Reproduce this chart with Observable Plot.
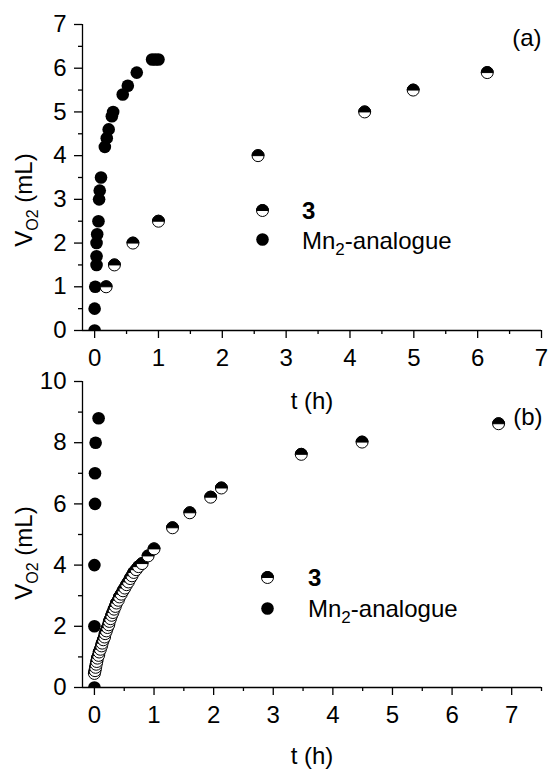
<!DOCTYPE html>
<html><head><meta charset="utf-8">
<script src="https://cdn.jsdelivr.net/npm/d3@7"></script>
<script src="https://cdn.jsdelivr.net/npm/@observablehq/plot@0.6"></script>
<style>
html,body{margin:0;padding:0;background:#fff;}
#wrap{position:relative;width:548px;height:769px;overflow:hidden;}
#wrap svg{position:absolute;left:0;}
</style></head><body><div id="wrap"></div>
<script>
// ---------- Panel (a) ----------
const aT3  = [0.18, 0.31, 0.60, 1.00, 2.56, 4.23, 4.99, 6.15];
const aV3  = [1.0, 1.5, 2.0, 2.5, 4.0, 5.0, 5.5, 5.9];
const aTMn = [0.00,0.00,0.01,0.03,0.03,0.03,0.04,0.06,0.07,0.08,0.10,0.16,0.19,0.22,0.27,0.29,0.44,0.52,0.66,0.90,0.95,1.00];
const aVMn = [0.0,0.5,1.0,1.5,1.7,2.0,2.2,2.5,3.0,3.2,3.5,4.2,4.4,4.6,4.9,5.0,5.4,5.6,5.9,6.2,6.2,6.2];
const aXTicks = [0,1,2,3,4,5,6,7];
const aXMinor = [0.5,1.5,2.5,3.5,4.5,5.5,6.5];
const aYTicks = [0,1,2,3,4,5,6,7];
const aYMinor = [0.5,1.5,2.5,3.5,4.5,5.5,6.5];

// ---------- Panel (b) ----------
const bT3  = [0.00,0.01,0.02,0.03,0.04,0.05,0.07,0.08,0.10,0.12,0.13,0.15,0.17,0.18,0.20,0.22,0.24,0.25,0.27,0.29,0.31,0.33,0.35,0.37,0.40,0.42,0.45,0.48,0.51,0.54,0.57,0.60,0.63,0.66,0.70,0.74,0.80,0.90,1.00,1.31,1.60,1.95,2.13,3.47,4.49,6.78];
const bV3  = [0.46,0.55,0.66,0.76,0.85,0.96,1.05,1.16,1.25,1.36,1.45,1.56,1.65,1.76,1.85,1.96,2.05,2.16,2.25,2.36,2.45,2.56,2.65,2.76,2.85,2.96,3.05,3.16,3.25,3.36,3.45,3.56,3.65,3.76,3.85,3.95,4.05,4.30,4.53,5.22,5.71,6.22,6.52,7.62,8.02,8.62];
const bTMn = [0.00,0.00,0.00,0.01,0.01,0.02,0.07];
const bVMn = [0.0,2.0,4.0,6.0,7.0,8.0,8.8];
const bXTicks = [0,1,2,3,4,5,6,7];
const bXMinor = [0.5,1.5,2.5,3.5,4.5,5.5,6.5,7.5];
const bYTicks = [0,2,4,6,8,10];
const bYMinor = [1,3,5,7,9];

const seriesNames = ["3", "Mn2-analogue"];
const FONT = '"Liberation Sans", Arial, Helvetica, sans-serif';
const FS = 24;

// upper half-disc symbol
const halfTop = {
  draw(ctx, size) {
    const r = Math.sqrt(size / Math.PI);
    ctx.moveTo(-r, 0);
    ctx.arc(0, 0, r, Math.PI, 2 * Math.PI);
    ctx.closePath();
  }
};

function halfRows(ts, vs) {
  const rows = [];
  ts.forEach((t, i) => {
    rows.push({t, v: vs[i], part: "full", fill: "white"});
    rows.push({t, v: vs[i], part: "top", fill: "black"});
  });
  return rows;
}

function panel(o) {
  const rows3 = halfRows(o.t3, o.v3);
  const rowsMn = o.tMn.map((t, i) => ({t, v: o.vMn[i]}));
  const legRows = [{part: "full", fill: "white"}, {part: "top", fill: "black"}];
  const fmt = d3.format("d");
  const svg = Plot.plot({
    width: 548, height: o.height,
    marginTop: o.mt, marginBottom: o.mb, marginLeft: 82, marginRight: 7,
    style: {background: "transparent", fontFamily: FONT, fontSize: FS + "px", color: "black", overflow: "visible"},
    x: {domain: o.xDomain},
    y: {domain: o.yDomain},
    symbol: {domain: ["full", "top"], range: [d3.symbolCircle, halfTop]},
    marks: [
      Plot.axisX({ticks: o.xTicks, tickFormat: fmt, tickSize: 8, tickPadding: 10, label: null, strokeWidth: 1.3, fontSize: FS}),
      Plot.axisX({ticks: o.xMinor, tickSize: 4, fill: "none", label: null, strokeWidth: 1.3}),
      Plot.axisY({ticks: o.yTicks, tickFormat: fmt, tickSize: 8, tickPadding: 8, label: null, strokeWidth: 1.3, fontSize: FS}),
      Plot.axisY({ticks: o.yMinor, tickSize: 4, fill: "none", label: null, strokeWidth: 1.3}),
      Plot.dot(rowsMn, {x: "t", y: "v", r: 6.3, fill: "black", stroke: "none", clip: true}),
      Plot.dot(rows3, {x: "t", y: "v", r: 6, symbol: "part", fill: "fill", stroke: "black", strokeWidth: 1, clip: true}),
      Plot.ruleY([o.yDomain[0]], {stroke: "black", strokeWidth: 1.3}),
      Plot.ruleX([o.xDomain[0]], {stroke: "black", strokeWidth: 1.3}),
      // legend symbols
      Plot.dot(legRows, {frameAnchor: "top-left", dx: o.legDx, dy: o.leg3Dy, r: 6, symbol: "part", fill: "fill", stroke: "black", strokeWidth: 1}),
      Plot.dot([seriesNames[1]], {frameAnchor: "top-left", dx: o.legDx, dy: o.legMnDy, r: 6.3, fill: "black"}),
      // panel tag and x title
      Plot.text([o.tag], {text: d => d, frameAnchor: "top-right", textAnchor: "end", lineAnchor: "middle", dx: o.tagDx, dy: o.tagDy, fontSize: FS, fill: "black"}),
      Plot.text(["t (h)"], {text: d => d, frameAnchor: "bottom", lineAnchor: "middle", dy: o.xTitleDy, fontSize: FS, fill: "black"})
    ]
  });
  svg.style.top = o.top + "px";
  const s = d3.select(svg);
  const g = s.append("g").attr("font-family", FONT).attr("font-size", FS).attr("fill", "black").style("white-space", "pre");
  // y title
  const yt = g.append("text").attr("transform", `translate(32,${o.yTitleCy}) rotate(-90)`).attr("text-anchor", "middle");
  yt.append("tspan").text("V");
  yt.append("tspan").attr("font-size", 16).attr("dy", 6).text("O2");
  yt.append("tspan").attr("dy", -6).text(" (mL)");
  // legend texts
  g.append("text").attr("x", o.legTx).attr("y", o.leg3Base).attr("text-anchor", "start").attr("font-weight", "bold").text(seriesNames[0]);
  const mt = g.append("text").attr("x", o.legTx).attr("y", o.legMnBase).attr("text-anchor", "start");
  mt.append("tspan").text("Mn");
  mt.append("tspan").attr("font-size", 17).attr("dy", 6).text("2");
  mt.append("tspan").attr("dy", -6).text("-analogue");
  return svg;
}

const wrap = document.getElementById("wrap");
wrap.appendChild(panel({
  t3: aT3, v3: aV3, tMn: aTMn, vMn: aVMn,
  xDomain: [-0.19, 7], yDomain: [0, 7],
  xTicks: aXTicks, xMinor: aXMinor, yTicks: aYTicks, yMinor: aYMinor,
  top: 0, height: 420, mt: 24, mb: 90,
  tag: "(a)", tagDx: 0, tagDy: 14, xTitleDy: 71,
  legDx: 180, leg3Dy: 186, legMnDy: 215,
  legTx: 302, leg3Base: 219, legMnBase: 249,
  yTitleCy: 200
}));
wrap.appendChild(panel({
  t3: bT3, v3: bV3, tMn: bTMn, vMn: bVMn,
  xDomain: [-0.2, 7.5], yDomain: [0, 10],
  xTicks: bXTicks, xMinor: bXMinor, yTicks: bYTicks, yMinor: bYMinor,
  top: 360, height: 409, mt: 21, mb: 82,
  tag: "(b)", tagDx: 1, tagDy: 36, xTitleDy: 69,
  legDx: 185, leg3Dy: 196, legMnDy: 227,
  legTx: 308, leg3Base: 226, legMnBase: 257,
  yTitleCy: 193
}));
</script>
</body></html>
